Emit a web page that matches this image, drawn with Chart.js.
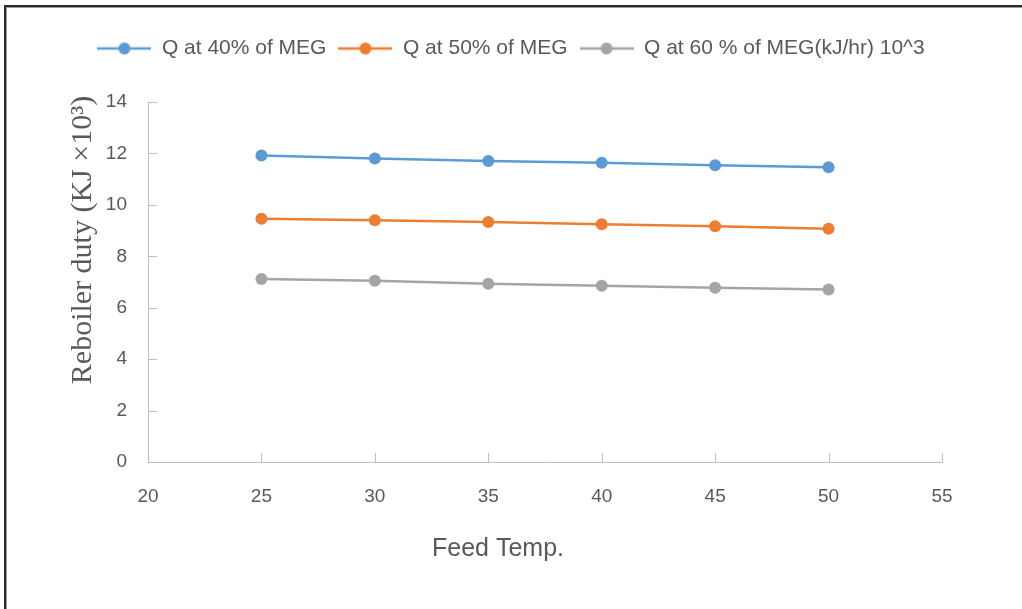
<!DOCTYPE html>
<html>
<head>
<meta charset="utf-8">
<title>Reboiler duty vs feed temperature</title>
<script src="https://cdn.jsdelivr.net/npm/chart.js@4.4.1/dist/chart.umd.min.js"></script>
<style>
    html, body {
        margin: 0;
        padding: 0;
        background: #ffffff;
        overflow: hidden;
    }
    .wrap {
        position: relative;
        width: 1022px;
        height: 609px;
    }
    .frame {
        position: absolute;
        left: 4px;
        top: 5px;
        right: 0;
        bottom: 0;
        border-top: 2px solid #2b2b2b;
        border-left: 2px solid #2b2b2b;
        box-shadow: inset 0 1px 0 #9a9a9a, inset 1px 0 0 #9a9a9a;
        pointer-events: none;
    }
    canvas {
        display: block;
    }
</style>
</head>
<body>
<div class="wrap">
    <canvas id="dutyChart" width="1022" height="609"></canvas>
    <div class="frame"></div>
</div>
<script>
// Feed temperature (x) and reboiler duty per MEG concentration
const feedTemps = [25, 30, 35, 40, 45, 50];
const duty40 = [11.92, 11.80, 11.71, 11.64, 11.54, 11.46];
const duty50 = [9.46, 9.40, 9.33, 9.25, 9.17, 9.07];
const duty60 = [7.12, 7.05, 6.93, 6.85, 6.78, 6.71];

const seriesNames = ['Q at 40% of MEG', 'Q at 50% of MEG', 'Q at 60 % of MEG(kJ/hr) 10^3'];
const seriesColors = ['#5b9bd5', '#ed7d31', '#a5a5a5'];

const xTicks = [20, 25, 30, 35, 40, 45, 50, 55];
const yTicks = [0, 2, 4, 6, 8, 10, 12, 14];

const yTitle = 'Reboiler duty (KJ \u00d710\u00b3)';
const xTitle = 'Feed Temp.';

const textColor = '#595959';
const axisColor = '#bfbfbf';

// little line + dot used as legend marker
function legendMarker(color) {
    const c = document.createElement('canvas');
    c.width = 54;
    c.height = 14;
    const g = c.getContext('2d');
    g.strokeStyle = color;
    g.lineWidth = 2.5;
    g.beginPath();
    g.moveTo(0, 7);
    g.lineTo(54, 7);
    g.stroke();
    g.fillStyle = color;
    g.beginPath();
    g.arc(27, 7, 6, 0, Math.PI * 2);
    g.fill();
    return c;
}

function toPoints(values) {
    return feedTemps.map((t, i) => ({ x: t, y: values[i] }));
}

// push the plot area down below the legend
const legendSpacer = {
    id: 'legendSpacer',
    beforeInit(chart) {
        const fit = chart.legend.fit;
        chart.legend.fit = function () {
            fit.bind(chart.legend)();
            this.height = 76;
        };
    }
};

// tick marks drawn inward, plus the two axis titles
const axisDecor = {
    id: 'axisDecor',
    afterDraw(chart) {
        const ctx = chart.ctx;
        const area = chart.chartArea;
        const xs = chart.scales.x;
        const ys = chart.scales.y;

        ctx.save();
        ctx.strokeStyle = axisColor;
        ctx.lineWidth = 1;
        ctx.beginPath();
        xTicks.forEach(v => {
            const px = Math.round(xs.getPixelForValue(v)) + 0.5;
            ctx.moveTo(px, area.bottom);
            ctx.lineTo(px, area.bottom - 9);
        });
        yTicks.forEach(v => {
            const py = Math.round(ys.getPixelForValue(v)) + 0.5;
            ctx.moveTo(area.left, py);
            ctx.lineTo(area.left + 9, py);
        });
        ctx.stroke();

        ctx.fillStyle = textColor;
        ctx.textAlign = 'center';
        ctx.textBaseline = 'middle';

        ctx.font = '25px "Liberation Sans", Arial, sans-serif';
        ctx.fillText(xTitle, 498, 549);

        ctx.translate(83, 240);
        ctx.rotate(-Math.PI / 2);
        ctx.font = '30px "Liberation Serif", "Times New Roman", serif';
        ctx.fillText(yTitle, 0, 0);
        ctx.restore();
    }
};

const ctx = document.getElementById('dutyChart').getContext('2d');
const dutyChart = new Chart(ctx, {
    type: 'line',
    data: {
        datasets: [duty40, duty50, duty60].map((vals, i) => ({
            label: seriesNames[i],
            data: toPoints(vals),
            borderColor: seriesColors[i],
            backgroundColor: seriesColors[i],
            borderWidth: 2.5,
            pointRadius: 6,
            pointHoverRadius: 6,
            pointBorderWidth: 0,
            tension: 0
        }))
    },
    options: {
        responsive: false,
        animation: false,
        events: [],
        layout: {
            padding: { top: 26, left: 80, right: 80, bottom: 0 }
        },
        plugins: {
            tooltip: { enabled: false },
            legend: {
                position: 'top',
                labels: {
                    usePointStyle: true,
                    pointStyleWidth: 54,
                    padding: 12,
                    color: textColor,
                    font: { family: '"Liberation Sans", Arial, sans-serif', size: 21 },
                    generateLabels: chart => chart.data.datasets.map((ds, i) => ({
                        text: ds.label,
                        pointStyle: legendMarker(seriesColors[i]),
                        fillStyle: seriesColors[i],
                        strokeStyle: seriesColors[i],
                        lineWidth: 0,
                        fontColor: textColor,
                        hidden: false,
                        datasetIndex: i
                    }))
                }
            }
        },
        scales: {
            x: {
                type: 'linear',
                min: xTicks[0],
                max: xTicks[xTicks.length - 1],
                afterBuildTicks: scale => {
                    scale.ticks = xTicks.map(v => ({ value: v }));
                },
                afterFit: scale => {
                    scale.height = 147;
                },
                grid: { display: false, drawTicks: false },
                border: { display: true, color: axisColor, width: 1 },
                ticks: {
                    padding: 23,
                    color: textColor,
                    font: { family: '"Liberation Sans", Arial, sans-serif', size: 19 }
                }
            },
            y: {
                type: 'linear',
                min: yTicks[0],
                max: yTicks[yTicks.length - 1],
                afterBuildTicks: scale => {
                    scale.ticks = yTicks.map(v => ({ value: v }));
                },
                afterFit: scale => {
                    scale.width = 68;
                },
                grid: { display: false, drawTicks: false },
                border: { display: true, color: axisColor, width: 1 },
                ticks: {
                    padding: 21,
                    color: textColor,
                    font: { family: '"Liberation Sans", Arial, sans-serif', size: 19 }
                }
            }
        }
    },
    plugins: [legendSpacer, axisDecor]
});
</script>
</body>
</html>
